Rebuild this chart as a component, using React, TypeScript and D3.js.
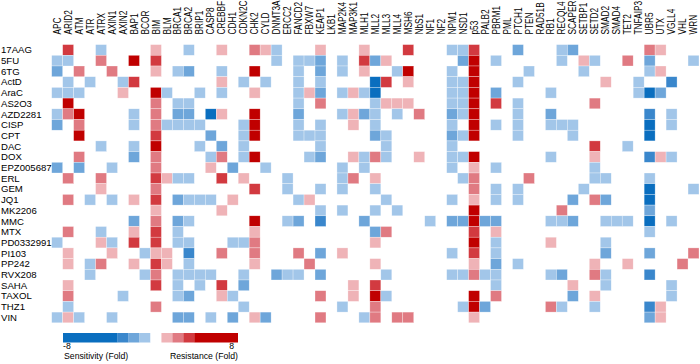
import React from 'react';
import * as d3 from 'd3';

const genes = [
  'APC', 'ARID2', 'ATM', 'ATR', 'ATRX', 'AXIN1', 'AXIN2', 'BAP1', 'BCOR', 'BIM',
  'BLM', 'BRCA1', 'BRCA2', 'BRIP1', 'CASP8', 'CREBBF', 'CDH1', 'CDKN2C', 'CHK2', 'CYLD',
  'DNMT3A', 'ERCC2', 'FANCD2', 'FBXW7', 'KEAP1', 'LKB1', 'MAP2K4', 'MAP3K1', 'MLH1', 'MLL2',
  'MLL3', 'MLL4', 'MSH6', 'NbS1', 'NF1', 'NF2', 'NPM1', 'NSD1', 'p53', 'PALB2',
  'PBRM1', 'PML', 'PTCH1', 'PTEN', 'RAD51B', 'RB1', 'RECQL4', 'SCAPER', 'SETBP1', 'SETD2',
  'SMAD2', 'SMAD4', 'TET2', 'TNFAIP3', 'UBR5', 'UTX', 'VGLL4', 'VHL', 'WRN',
];

const drugs = [
  '17AAG', '5FU', '6TG', 'ActD', 'AraC', 'AS2O3', 'AZD2281', 'CISP', 'CPT', 'DAC',
  'DOX', 'EPZ005687', 'ERL', 'GEM', 'JQ1', 'MK2206', 'MMC', 'MTX', 'PD0332991', 'PI103',
  'PP242', 'RVX208', 'SAHA', 'TAXOL', 'THZ1', 'VIN',
];

// one string per drug, one char per gene (blocks of ten, spaces ignored)
// a..d = sensitivity light -> dark, 1..4 = resistance light -> dark, '.' = none
const cellRows = [
  '.3..a....1 ..a..1..21 a...1...1. ..3...aa3. ..b...ab.. ....21...',
  'aa..2..4.3 .......... a.aab.a.3b 1......b4. a.....a.1a ..2.b...a',
  'b.2..2...1 .ab..a..4. ..a.b.a.1. .a4...a.4. ...a....a. ....a1...',
  '.a.a..a3.. .....1.a.a ..a.a....d 3.1...aa4. ..a....... 1..a..c..',
  'aaa...1..4 a..a.a..1. ..a1b.a1ad ......aa4. b....a.... ...adb...',
  '.4.......2 .aa....... ..a.2....a 111...aa4. 3.a......2 .........',
  'a24....a.2 .bb.d1..4. ..b...a1ba .a.2..ba4. ..a..b.... ....c.a..',
  'b.2....a.2 aaaa...a4. ..a.a..1.a ......a.4. a.a..aaa.. ....d.a..',
  '..4......3 ....b..a4. ..aaa....b a.....ba4. ..a....a.. ....d....',
  '....a..a.4 ...a.b.a.. ....a..... a.....a... .........3 ..a......',
  '..2....b.2 ....a2.a4. ...ab..1a2 a..1..aa4. .....a...1 ....c1a..',
  'b.b..a...2 ....1.b..a ......a.a. ......a.1. a........a .........',
  '.2..2....3 1aa..3.1.. .a....a2.1 .......a2. ...2.....a a...a....',
  '....1....2 ........3. .a..a.a..a ........2. a.a.....a. ....d...a',
  '.2.a.a.1.3 .baaa.1... ..a1...... a.....a.1. a.a....b.2 b...d....',
  '.........1 .....1.... ....a.a..a .a......4. ......2... ....b....',
  '.......b.2 .ba.....4. .ab.c...b. ....a.bb4b b....aab.. aaa.d.a..',
  '.2..a..1.3 .a......1. .........b 2.......3. 1......... ....a....',
  'a...1a.3.3 .aa...aa2. .........1 ........4. a....1.... a........',
  '.1...1..a1 1.c..2..2. ..2.b.1... ......a.3. a......... b...b...2',
  '.1.a2..1.3 1.a.....1. ...2.....1 ........1. b.a......1 ..1....2.',
  '...a....a2 .aaaa..a.. baa.b..... a.....aa2a a....ab..2 a...c....',
  '.1.......3 .a.a.3.b.. .......1.3 .......... a......1.. a.....a..',
  '.2....a... .ab..1a... ....2..1.4 a.......4. 2......b.1 ......a..',
  '.a.......2 .......a.. ......a..2 .......a4b .....2a..a ....c1...',
  'a1a..a.... .bb.a.b.1b ....2...a2 .22.....1. .......... ....b1...',
];

// representative fold change for each code
const codeFold: Record<string, number> = {
  d: -6, c: -2.5, b: -1.5, a: -0.5, '1': 1.5, '2': 2.5, '3': 3.5, '4': 6,
};

const foldBreaks = [-3, -2, -1, 0, 1, 2, 3, 4];
const foldColors = [
  '#0a6ebf', '#3a87cc', '#6ea6da', '#a2c6e9', '#ffffff',
  '#efb3b7', '#e07a82', '#d23a40', '#c00000',
];
const legendTicks = [-8, 8];

const FONT = '"Liberation Sans", Arial, sans-serif';

interface Cell {
  drug: string;
  gene: string;
  fold: number;
}

const App: React.FC = () => {
  const width = 700;
  const height = 364;

  const x = d3.scaleBand<string>().domain(genes).range([51.7, 699]);
  const y = d3.scaleBand<string>().domain(drugs).range([44.6, 322.8]);
  const color = d3.scaleThreshold<number, string>().domain(foldBreaks).range(foldColors);

  const cells: Cell[] = [];
  cellRows.forEach((row, i) => {
    const codes = row.replace(/ /g, '');
    codes.split('').forEach((c, j) => {
      if (c in codeFold) cells.push({ drug: drugs[i], gene: genes[j], fold: codeFold[c] });
    });
  });

  // legend
  const lx = d3.scaleLinear().domain([-8, 8]).range([63, 238]);
  const stops = [-8, ...foldBreaks, 8];
  const segs = d3.pairs(stops);

  return (
    <svg
      width={width}
      height={height}
      style={{ position: 'absolute', left: 0, top: 0, background: '#fff' }}
      fontFamily={FONT}
    >
      {cells.map((d) => (
        <rect
          key={d.drug + d.gene}
          x={x(d.gene)}
          y={y(d.drug)}
          width={x.bandwidth()}
          height={y.bandwidth()}
          fill={color(d.fold)}
          stroke="#fff"
          strokeWidth={0.5}
          strokeOpacity={0.6}
        />
      ))}

      {drugs.map((d) => (
        <text
          key={d}
          x={1}
          y={(y(d) ?? 0) + y.bandwidth() / 2}
          dy="0.35em"
          fontSize={9.6}
          fill="#000"
        >
          {d}
        </text>
      ))}

      {genes.map((g) => (
        <text
          key={g}
          transform={`translate(${(x(g) ?? 0) + x.bandwidth() / 2},34.5) rotate(-90) scale(0.83,1)`}
          dy="0.36em"
          fontSize={10}
          fill="#000"
        >
          {g}
        </text>
      ))}

      <g>
        {segs.map(([a, b], i) => (
          <rect
            key={i}
            x={lx(a)}
            y={333}
            width={lx(b) - lx(a)}
            height={9.5}
            fill={color((a + b) / 2)}
          />
        ))}
        {legendTicks.map((t) => (
          <text
            key={t}
            x={t < 0 ? lx(t) : lx(t) - 4}
            y={349}
            fontSize={8.7}
            textAnchor={t < 0 ? 'start' : 'end'}
          >
            {t}
          </text>
        ))}
        <text x={lx(-8) + 1} y={359} fontSize={8.7}>Sensitivity (Fold)</text>
        <text x={lx(8)} y={359} fontSize={8.7} textAnchor="end">Resistance (Fold)</text>
      </g>
    </svg>
  );
};

export default App;
